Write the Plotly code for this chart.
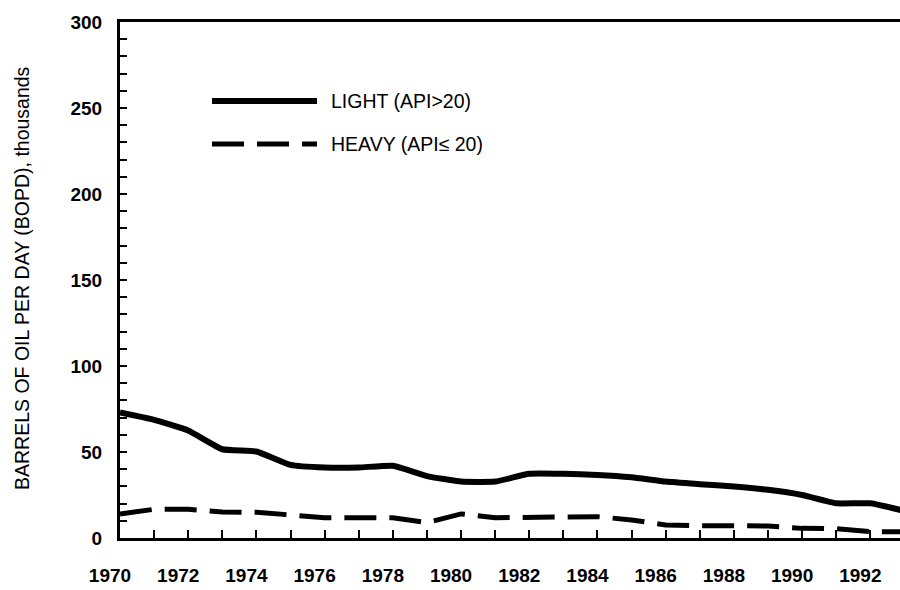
import plotly.graph_objects as go

years = list(range(1970, 1994))
light = [73, 68.7, 62.5, 51.6, 50.3, 42.5, 41, 41, 42, 36, 32.8, 32.8,
         37.3, 37.3, 36.7, 35.3, 32.8, 31.3, 29.9, 28, 25, 20.2, 20.2, 15.7]
heavy = [14, 16.7, 16.7, 15.1, 15, 13.4, 11.8, 11.8, 11.8, 8.9, 14, 11.8,
         11.8, 11.8, 12.4, 10.5, 7.6, 7.2, 7.2, 7, 5.6, 5.4, 3.7, 3.7]
tick_years = list(range(1970, 1993, 2))
y_ticks = [0, 50, 100, 150, 200, 250, 300]
legend_labels = ["LIGHT (API>20)", "HEAVY (API\u2264 20)"]
y_title = "BARRELS OF OIL PER DAY (BOPD), thousands"

FONT = "Liberation Sans, Arial, Helvetica, sans-serif"
DASH = "32px,13px"

fig = go.Figure()
fig.add_trace(go.Scatter(x=years, y=light, mode="lines", name=legend_labels[0],
                         line=dict(color="black", width=6, shape="spline", smoothing=0.4),
                         showlegend=False, cliponaxis=True))
fig.add_trace(go.Scatter(x=years, y=heavy, mode="lines", name=legend_labels[1],
                         line=dict(color="black", width=5, dash=DASH),
                         showlegend=False, cliponaxis=True))

L, R, T, B = 120, 0, 22, 52
W, H = 900, 590
pw, ph = W - L - R, H - T - B


def px_x(p):
    return (p - L) / pw


def px_y(p):
    return (H - B - p) / ph


# legend drawn manually (long sample lines as in the original)
fig.add_shape(type="line", xref="paper", yref="paper",
              x0=px_x(212), x1=px_x(317), y0=px_y(101), y1=px_y(101),
              line=dict(color="black", width=6))
fig.add_shape(type="line", xref="paper", yref="paper",
              x0=px_x(212), x1=px_x(317), y0=px_y(144), y1=px_y(144),
              line=dict(color="black", width=5, dash=DASH))
for lab, py in zip(legend_labels, [101, 144]):
    fig.add_annotation(xref="paper", yref="paper", x=px_x(329), y=px_y(py),
                       text=lab, showarrow=False, xanchor="left", yanchor="middle",
                       font=dict(family=FONT, size=19.5, color="black"))

fig.add_annotation(xref="paper", yref="paper", x=px_x(22), y=px_y(278),
                   text=y_title, showarrow=False, textangle=-90,
                   xanchor="center", yanchor="middle",
                   font=dict(family=FONT, size=19.5, color="black"))

fig.update_xaxes(range=[1970, 1992.87], tickvals=tick_years,
                 ticktext=[str(y) for y in tick_years],
                 ticks="inside", ticklen=8, tickwidth=2, tickcolor="black",
                 minor=dict(dtick=1, tick0=1970, ticks="inside", ticklen=8,
                            tickwidth=2, tickcolor="black"),
                 showline=True, linecolor="black", linewidth=3, mirror=True,
                 showgrid=False, zeroline=False,
                 ticklabelstandoff=18, ticklabelshift=-10,
                 tickfont=dict(family=FONT, size=19, color="black", weight="bold"))
fig.update_yaxes(range=[0, 300], tickvals=y_ticks,
                 ticks="inside", ticklen=7, tickwidth=2, tickcolor="black",
                 minor=dict(dtick=10, tick0=0, ticks="inside", ticklen=7,
                            tickwidth=2, tickcolor="black"),
                 showline=True, linecolor="black", linewidth=3,
                 showgrid=False, zeroline=False,
                 ticklabelstandoff=11,
                 tickfont=dict(family=FONT, size=19, color="black", weight="bold"))

fig.update_layout(width=W, height=H, margin=dict(l=L, r=R, t=T, b=B, autoexpand=False),
                  plot_bgcolor="white", paper_bgcolor="white", showlegend=False)

fig.write_html("out.html", config={"displayModeBar": False},
               post_script="document.body.style.margin='0';document.body.style.overflow='hidden';")
